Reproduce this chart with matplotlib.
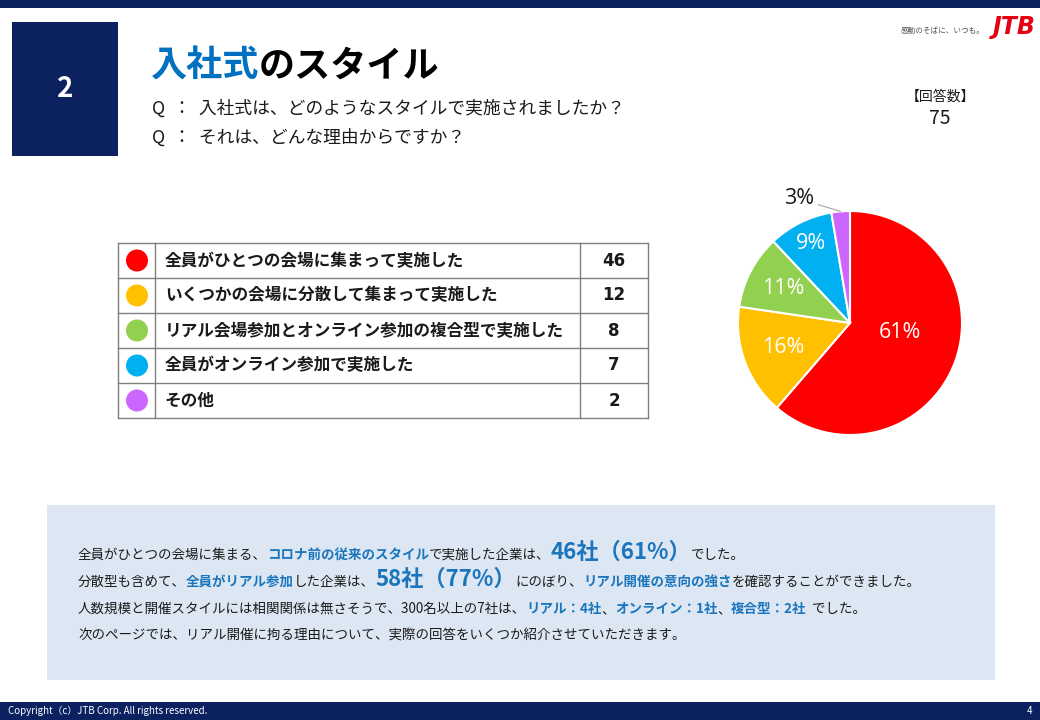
import numpy as np
import matplotlib.pyplot as plt
from matplotlib.patches import Rectangle, Circle

plt.rcParams['font.family'] = ['Noto Sans CJK JP', 'DejaVu Sans']

# --------------------------------------------------
# data
# --------------------------------------------------
categories = [
    "全員がひとつの会場に集まって実施した",
    "いくつかの会場に分散して集まって実施した",
    "リアル会場参加とオンライン参加の複合型で実施した",
    "全員がオンライン参加で実施した",
    "その他",
]
counts = [46, 12, 8, 7, 2]
colors = ["#FF0000", "#FFC000", "#92D050", "#00B0F0", "#CC66FF"]
n_answers = 75

NAVY = "#0B2160"
BLUE = "#1A75BC"
TXT = "#1a1a1a"

W, H = 1040, 720
fig = plt.figure(figsize=(W / 100, H / 100), dpi=100)
ax = fig.add_axes([0, 0, 1, 1])
ax.set_xlim(0, W)
ax.set_ylim(H, 0)
ax.axis("off")
renderer = fig.canvas.get_renderer()


def runs(x, y, parts):
    # draw text pieces one after the other on one baseline
    for s, size, weight, color in parts:
        t = ax.text(x, y, s, fontsize=size, fontweight=weight, color=color,
                    ha="left", va="baseline")
        x += t.get_window_extent(renderer).width
    return x


# --------------------------------------------------
# header
# --------------------------------------------------
ax.add_patch(Rectangle((0, 0), W, 8, color=NAVY, lw=0))
ax.add_patch(Rectangle((12, 22), 106, 134, color=NAVY, lw=0))
ax.text(65, 89, "2", color="white", fontsize=20, fontweight="bold",
        ha="center", va="center")

runs(150, 77, [("入社式", 26, "bold", "#0070C0"), ("のスタイル", 26, "bold", "black")])
ax.text(152, 109, "Q  ：  入社式は、どのようなスタイルで実施されましたか？",
        fontsize=12.8, color=TXT, va="center")
ax.text(152, 138, "Q  ：  それは、どんな理由からですか？",
        fontsize=12.8, color=TXT, va="center")

# logo
ax.text(985, 31, "感動のそばに、いつも。", fontsize=5.5, color="#555555",
        style="italic", ha="right", va="center")
ax.text(1036, 27, "JTB", fontsize=17, color="#E60012", style="italic",
        fontweight="heavy", ha="right", va="center", family="DejaVu Sans")

ax.text(940, 97, "【回答数】", fontsize=10, color=TXT, ha="center", va="center")
ax.text(940, 119, str(n_answers), fontsize=14, color=TXT, ha="center", va="center")

# --------------------------------------------------
# table
# --------------------------------------------------
x0, x1, x2, x3 = 118, 155, 580, 648
y_top, row_h = 243, 35
n = len(categories)
line_c = "#808080"
for i in range(n + 1):
    y = y_top + i * row_h
    ax.plot([x0, x3], [y, y], color=line_c, lw=1)
for x in (x0, x1, x2, x3):
    ax.plot([x, x], [y_top, y_top + n * row_h], color=line_c, lw=1)

for i, (cat, cnt, col) in enumerate(zip(categories, counts, colors)):
    yc = y_top + (i + 0.5) * row_h
    ax.add_patch(Circle((137, yc), 11, color=col, lw=0))
    ax.text(165, yc, cat, fontsize=12, fontweight="bold", color=TXT, va="center")
    ax.text((x2 + x3) / 2, yc, str(cnt), fontsize=12, fontweight="bold",
            color=TXT, ha="center", va="center", family="DejaVu Sans")

# --------------------------------------------------
# pie
# --------------------------------------------------
cx, cy, r = 850, 323, 112
pax = fig.add_axes([(cx - r) / W, (H - cy - r) / H, 2 * r / W, 2 * r / H])
wedges, _ = pax.pie(counts, colors=colors, startangle=90, counterclock=False,
                    wedgeprops=dict(edgecolor="white", linewidth=1.5))
pax.set_xlim(-1, 1)
pax.set_ylim(-1, 1)
pax.set_aspect("equal")

pct = [round(c / sum(counts) * 100) for c in counts]
label_r = [0.45, 0.64, 0.67, 0.79]
for k, w in enumerate(wedges):
    mid = np.deg2rad((w.theta1 + w.theta2) / 2)
    if k == 0:
        mid += np.deg2rad(10)
    lab = f"{pct[k]}%"
    if k < len(label_r):
        rr = label_r[k]
        pax.text(rr * np.cos(mid), rr * np.sin(mid), lab, color="white",
                 fontsize=15.5, ha="center", va="center", family="Open Sans")
    else:
        pax.annotate(lab, xy=(np.cos(mid), np.sin(mid)), xytext=(-30, 9),
                     textcoords="offset points", fontsize=15.5, color=TXT,
                     ha="center", va="center", family="Open Sans",
                     annotation_clip=False,
                     arrowprops=dict(arrowstyle="-", color="#A6A6A6", lw=0.8,
                                     shrinkA=1, shrinkB=0))

# --------------------------------------------------
# summary box
# --------------------------------------------------
ax.add_patch(Rectangle((47, 505), 948, 175, color="#DCE7F3", lw=0))
s, b = 9.7, 16
runs(78, 559, [("全員がひとつの会場に集まる、", s, "normal", TXT),
               ("コロナ前の従来のスタイル", s, "bold", BLUE),
               ("で実施した企業は、", s, "normal", TXT),
               ("46社（61%）", b, "bold", BLUE),
               ("でした。", s, "normal", TXT)])
runs(78, 586, [("分散型も含めて、", s, "normal", TXT),
               ("全員がリアル参加", s, "bold", BLUE),
               ("した企業は、", s, "normal", TXT),
               ("58社（77%）", b, "bold", BLUE),
               ("にのぼり、", s, "normal", TXT),
               ("リアル開催の意向の強さ", s, "bold", BLUE),
               ("を確認することができました。", s, "normal", TXT)])
runs(78, 613, [("人数規模と開催スタイルには相関関係は無さそうで、300名以上の7社は、", s, "normal", TXT),
               ("リアル：4社", s, "bold", BLUE),
               ("、", s, "normal", TXT),
               ("オンライン：1社", s, "bold", BLUE),
               ("、", s, "normal", TXT),
               ("複合型：2社", s, "bold", BLUE),
               ("  でした。", s, "normal", TXT)])
runs(78, 640, [("次のページでは、リアル開催に拘る理由について、実際の回答をいくつか紹介させていただきます。", s, "normal", TXT)])

# --------------------------------------------------
# footer
# --------------------------------------------------
ax.add_patch(Rectangle((0, 702), W, 18, color=NAVY, lw=0))
ax.text(8, 711, "Copyright（c）JTB Corp. All rights reserved.", fontsize=7,
        color="white", va="center")
ax.text(1032, 711, "4", fontsize=7, color="white", ha="right", va="center")

fig.savefig("out.png", dpi=100)
